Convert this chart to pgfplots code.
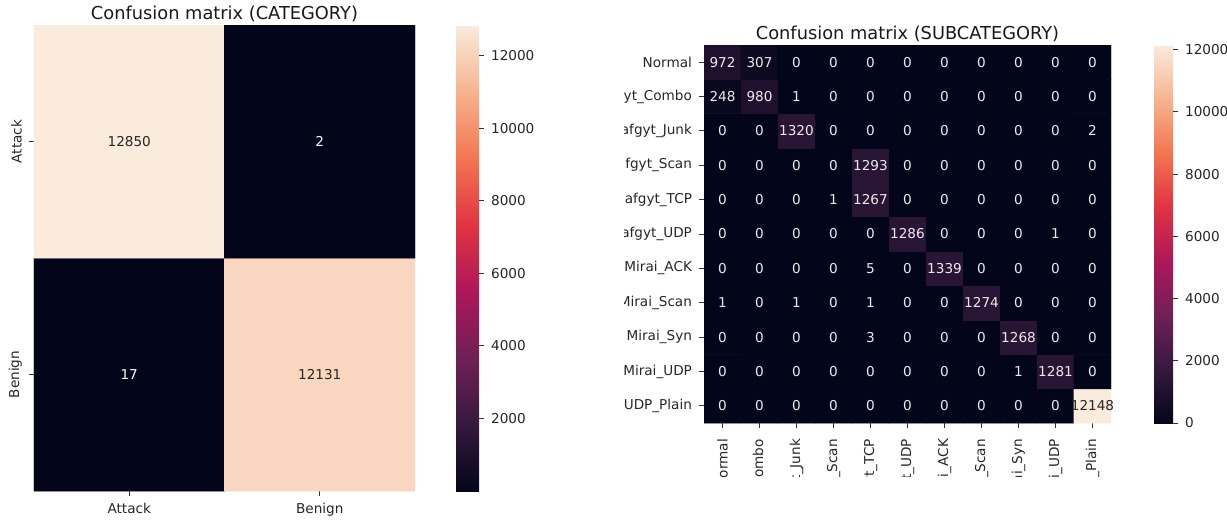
\documentclass[border=0pt]{standalone}
\usepackage{pgfplots}
\pgfplotsset{compat=1.18}
\usepackage{pgfplotstable}
\usepackage{fontspec}
\setmainfont{DejaVu Sans}

\newcommand{\tfont}{\fontsize{6.8}{8}\selectfont}
\newcommand{\ttlfont}{\fontsize{8.9}{10}\selectfont}
\definecolor{darktxt}{RGB}{38,38,38}

\pgfplotsset{
  colormap={rocket}{rgb255=(3,5,26) rgb255=(53,25,62) rgb255=(112,31,87) rgb255=(173,23,89) rgb255=(225,51,66) rgb255=(243,118,81) rgb255=(246,180,143) rgb255=(250,235,221)},
  hm/.style={scale only axis, axis line style={draw=none}, tick align=outside,
    major tick length=2.5pt, tick style={black!80, line width=0.5pt},
    xtick pos=left, ytick pos=left,
    tick label style={font=\tfont, text=black!85},
    title style={font=\ttlfont, text=black!90, at={(0.5,1)}, anchor=base, yshift=-3pt, inner sep=0pt},
    enlargelimits=false, colormap name=rocket},
  cb/.style={scale only axis, axis line style={draw=none}, tick align=outside,
    major tick length=2.5pt, tick style={black!80, line width=0.5pt},
    yticklabel pos=right, ytick pos=right, scaled y ticks=false,
    yticklabel style={font=\tfont, text=black!85, /pgf/number format/.cd, fixed, precision=0, assume math mode=true, set thousands separator={}}},
  lbl/.style={draw=none, nodes near coords, point meta=explicit symbolic,
    every node near coord/.append style={anchor=center, font=\tfont, inner sep=0pt}},
}

\pgfplotstableread{
x y c
0 0 17
1 0 12131
0 1 12850
1 1 2
}\catdata

\pgfplotstableread{
x y c
0 0 0
1 0 0
2 0 0
3 0 0
4 0 0
5 0 0
6 0 0
7 0 0
8 0 0
9 0 0
10 0 12148
0 1 0
1 1 0
2 1 0
3 1 0
4 1 0
5 1 0
6 1 0
7 1 0
8 1 1
9 1 1281
10 1 0
0 2 0
1 2 0
2 2 0
3 2 0
4 2 3
5 2 0
6 2 0
7 2 0
8 2 1268
9 2 0
10 2 0
0 3 1
1 3 0
2 3 1
3 3 0
4 3 1
5 3 0
6 3 0
7 3 1274
8 3 0
9 3 0
10 3 0
0 4 0
1 4 0
2 4 0
3 4 0
4 4 5
5 4 0
6 4 1339
7 4 0
8 4 0
9 4 0
10 4 0
0 5 0
1 5 0
2 5 0
3 5 0
4 5 0
5 5 1286
6 5 0
7 5 0
8 5 0
9 5 1
10 5 0
0 6 0
1 6 0
2 6 0
3 6 1
4 6 1267
5 6 0
6 6 0
7 6 0
8 6 0
9 6 0
10 6 0
0 7 0
1 7 0
2 7 0
3 7 0
4 7 1293
5 7 0
6 7 0
7 7 0
8 7 0
9 7 0
10 7 0
0 8 0
1 8 0
2 8 1320
3 8 0
4 8 0
5 8 0
6 8 0
7 8 0
8 8 0
9 8 0
10 8 2
0 9 248
1 9 980
2 9 1
3 9 0
4 9 0
5 9 0
6 9 0
7 9 0
8 9 0
9 9 0
10 9 0
0 10 972
1 10 307
2 10 0
3 10 0
4 10 0
5 10 0
6 10 0
7 10 0
8 10 0
9 10 0
10 10 0
}\subdata

\begin{document}
\begin{tikzpicture}
% ---------------- left: CATEGORY ----------------
\begin{axis}[hm, at={(17pt,20pt)}, anchor=south west, width=190.5pt, height=233pt,
  xmin=-0.5, xmax=1.5, ymin=-0.5, ymax=1.5,
  xtick={0,1}, xticklabels={Attack,Benign},
  ytick={0,1}, yticklabels={Benign,Attack},
  yticklabel style={rotate=90, anchor=south},
  point meta min=2, point meta max=12850,
  title={Confusion matrix (CATEGORY)},
  colorbar,
  colorbar style={cb, at={(parent axis.north east)}, anchor=north west, xshift=12pt,
    width=11.5pt, height=233pt, ytick={2000,4000,6000,8000,10000,12000}}]
\addplot[matrix plot*, mesh/cols=2, point meta=explicit] table[x=x, y=y, meta=c] {\catdata};
\addplot[lbl, every node near coord/.append style={text=white}]
  table[x expr={\thisrow{c}>6000 ? nan : \thisrow{x}}, y=y, meta=c] {\catdata};
\addplot[lbl, every node near coord/.append style={text=darktxt}]
  table[x expr={\thisrow{c}>6000 ? \thisrow{x} : nan}, y=y, meta=c] {\catdata};
\end{axis}

% ---------------- right: SUBCATEGORY ----------------
\begin{scope}
\clip (312pt,27.5pt) rectangle (613.5pt,265.5pt);
\begin{axis}[hm, at={(352pt,54pt)}, anchor=south west, width=203.5pt, height=189pt,
  xmin=-0.5, xmax=10.5, ymin=-0.5, ymax=10.5,
  xtick={0,...,10},
  xticklabels={Normal,Gafgyt\_Combo,Gafgyt\_Junk,Gafgyt\_Scan,Gafgyt\_TCP,Gafgyt\_UDP,Mirai\_ACK,Mirai\_Scan,Mirai\_Syn,Mirai\_UDP,UDP\_Plain},
  xticklabel style={rotate=90, anchor=east}, xticklabel shift=2pt,
  ytick={0,...,10},
  yticklabels={UDP\_Plain,Mirai\_UDP,Mirai\_Syn,Mirai\_Scan,Mirai\_ACK,Gafgyt\_UDP,Gafgyt\_TCP,Gafgyt\_Scan,Gafgyt\_Junk,Gafgyt\_Combo,Normal},
  point meta min=0, point meta max=12148,
  title={Confusion matrix (SUBCATEGORY)},
  colorbar,
  colorbar style={cb, at={(parent axis.north east)}, anchor=north west, xshift=13pt,
    width=9.5pt, height=189pt, ytick={0,2000,4000,6000,8000,10000,12000}}]
\addplot[matrix plot*, mesh/cols=11, point meta=explicit] table[x=x, y=y, meta=c] {\subdata};
\addplot[lbl, every node near coord/.append style={text=white!92!black}]
  table[x expr={\thisrow{c}>6000 ? nan : \thisrow{x}}, y=y, meta=c] {\subdata};
\addplot[lbl, every node near coord/.append style={text=darktxt}]
  table[x expr={\thisrow{c}>6000 ? \thisrow{x} : nan}, y=y, meta=c] {\subdata};
\end{axis}
\end{scope}
\pgfresetboundingbox
\useasboundingbox (0,0) rectangle (613.5pt,265.5pt);
\end{tikzpicture}
\end{document}
